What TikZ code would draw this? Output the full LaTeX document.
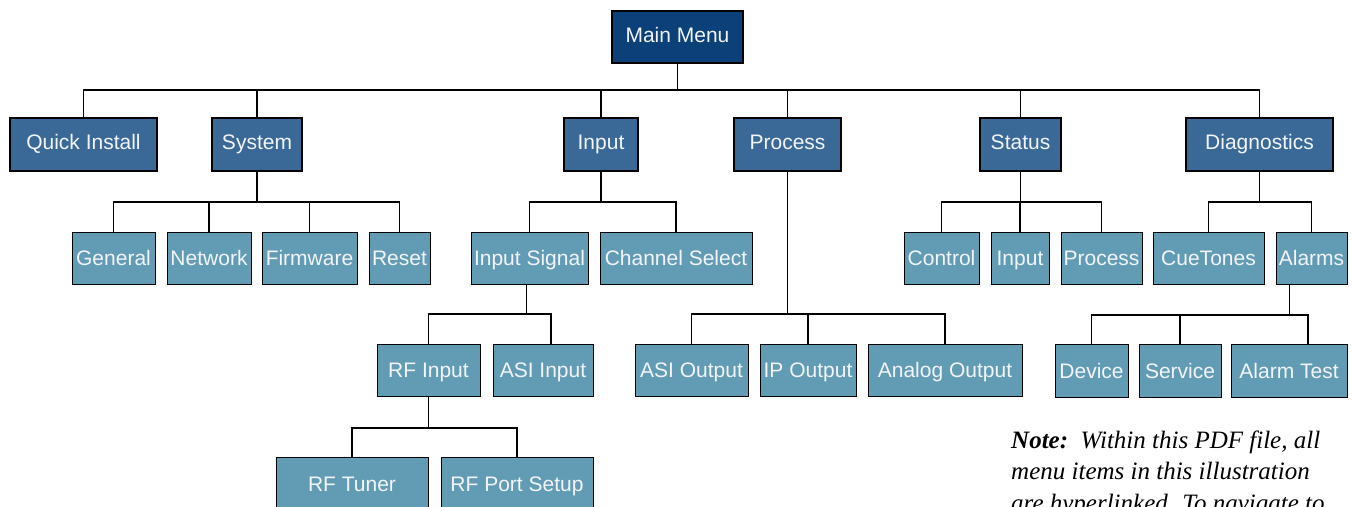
\documentclass[tikz,border=0pt]{standalone}
\usepackage{fontspec}
\setmainfont{Liberation Sans}
\newfontfamily\notefont{Liberation Serif}
\definecolor{mmfill}{HTML}{0B4079}
\definecolor{lafill}{HTML}{3B6997}
\definecolor{lbfill}{HTML}{629CB4}
\definecolor{txtc}{HTML}{F2F4F7}
\newcommand\bx[7]{\node[#6, minimum width={(#4-#2)*1pt}, minimum height={(#5-#3)*1pt}] (#1) at ({(#2+#4)/2},{(#3+#5)/2}) {#7};}
\newcommand\cn[3]{\draw[conn] (#1) -- (#1 |- 0,#2) -| (#3);}
\tikzset{
  box/.style={inner sep=0pt, text=txtc, font=\fontsize{21}{25}\selectfont, anchor=center, draw=black},
  mainbox/.style={box, fill=mmfill, line width=1.6pt, text height=15pt, text depth=5pt},
  topbox/.style={box, fill=lafill, line width=1.5pt, text height=15pt, text depth=5pt},
  subbox/.style={box, fill=lbfill, line width=1pt, text height=15pt, text depth=0pt},
  conn/.style={draw=black, line width=1.3pt},
  notetext/.style={anchor=base west, inner sep=0pt, font=\notefont\itshape\fontsize{25}{31}\selectfont}
}
\begin{document}
\begin{tikzpicture}[x=1pt,y=-1pt]
\useasboundingbox (0,0) rectangle (1352,506);
% connectors first
\bx{mm}{612}{11}{743}{63}{mainbox}{Main Menu}
\bx{qi}{10}{118}{157}{171}{topbox}{Quick Install}
\bx{sys}{212}{118}{302}{171}{topbox}{System}
\bx{inp}{564}{118}{638}{171}{topbox}{Input}
\bx{proc}{734}{118}{841}{171}{topbox}{Process}
\bx{stat}{980}{118}{1061}{171}{topbox}{Status}
\bx{diag}{1186}{118}{1333}{171}{topbox}{Diagnostics}
\bx{gen}{72}{232}{155}{284.3}{subbox}{General}
\bx{net}{167}{232}{251}{284.3}{subbox}{Network}
\bx{fw}{262}{232}{357}{284.3}{subbox}{Firmware}
\bx{rst}{369}{232}{430}{284.3}{subbox}{Reset}
\bx{isig}{471}{232}{588}{284.3}{subbox}{Input Signal}
\bx{csel}{600}{232}{752}{284.3}{subbox}{Channel Select}
\bx{ctrl}{904}{232}{979}{284.3}{subbox}{Control}
\bx{sin}{991}{232}{1049}{284.3}{subbox}{Input}
\bx{sproc}{1061}{232}{1142}{284.3}{subbox}{Process}
\bx{cue}{1153}{232}{1264}{284.3}{subbox}{CueTones}
\bx{alm}{1276}{232}{1347}{284.3}{subbox}{Alarms}
\bx{rfi}{377}{344}{480}{396.5}{subbox}{RF Input}
\bx{asii}{493}{344}{593}{396.5}{subbox}{ASI Input}
\bx{asio}{635}{344}{748}{396.5}{subbox}{ASI Output}
\bx{ipo}{760}{344}{856}{396.5}{subbox}{IP Output}
\bx{ano}{868}{344}{1022}{396.5}{subbox}{Analog Output}
\bx{dev}{1055}{344.5}{1128}{397.3}{subbox}{Device}
\bx{svc}{1139}{344.5}{1221}{397.3}{subbox}{Service}
\bx{alt}{1231}{344.5}{1347}{397.3}{subbox}{Alarm Test}
\bx{rft}{276}{457.3}{428}{510}{subbox}{RF Tuner}
\bx{rfp}{441}{457.3}{593}{510}{subbox}{RF Port Setup}
% shifted stem points
\coordinate (almdrop) at ([xshift=-22pt]alm.south);
\coordinate (isigdrop) at ([xshift=-3pt]isig.south);
\coordinate (asiiin) at ([xshift=8pt]asii.north);
\coordinate (altin) at ([xshift=19pt]alt.north);
\begin{scope}[on background layer/.try]
\end{scope}
% level 1
\cn{mm.south}{90}{qi.north}
\cn{mm.south}{90}{sys.north}
\cn{mm.south}{90}{inp.north}
\cn{mm.south}{90}{proc.north}
\cn{mm.south}{90}{stat.north}
\cn{mm.south}{90}{diag.north}
% system
\cn{sys.south}{202}{gen.north}
\cn{sys.south}{202}{net.north}
\cn{sys.south}{202}{fw.north}
\cn{sys.south}{202}{rst.north}
% input
\cn{inp.south}{202}{isig.north}
\cn{inp.south}{202}{csel.north}
\cn{isigdrop}{314}{rfi.north}
\cn{isigdrop}{314}{asiiin}
\cn{rfi.south}{428}{rft.north}
\cn{rfi.south}{428}{rfp.north}
% process
\cn{proc.south}{314}{asio.north}
\cn{proc.south}{314}{ipo.north}
\cn{proc.south}{314}{ano.north}
% status
\cn{stat.south}{202}{ctrl.north}
\cn{stat.south}{202}{sin.north}
\cn{stat.south}{202}{sproc.north}
% diagnostics
\cn{diag.south}{202}{cue.north}
\cn{diag.south}{202}{alm.north}
\cn{almdrop}{315}{dev.north}
\cn{almdrop}{315}{svc.north}
\cn{almdrop}{315}{altin}
% note
\node[notetext] (n1) at (1011,448) {\textbf{Note:}\ \ Within this PDF file, all};
\node[notetext] (n2) at (1011,479.5) {menu items in this illustration};
\node[notetext] (n3) at (1011,511) {are hyperlinked. To navigate to};
\end{tikzpicture}
\end{document}
